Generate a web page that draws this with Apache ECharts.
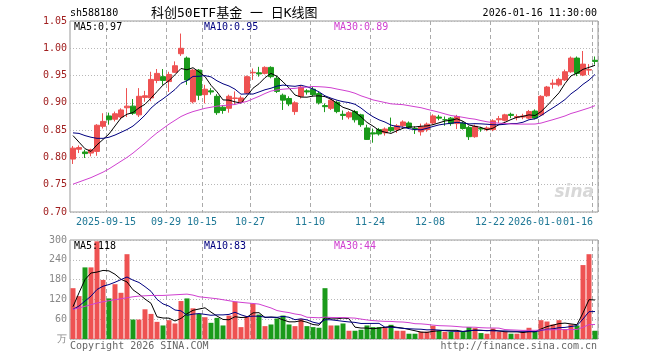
<!DOCTYPE html>
<html><head><meta charset="utf-8">
<script src="https://cdn.jsdelivr.net/npm/echarts@6/dist/echarts.min.js"></script>
<style>html,body{margin:0;padding:0;background:#fff}#c{width:660px;height:360px}</style>
</head><body><div id="c"></div>
<script>
const dates = ['2025-09-05','2025-09-08','2025-09-09','2025-09-10','2025-09-11','2025-09-12',
'2025-09-15','2025-09-16','2025-09-17','2025-09-18','2025-09-19','2025-09-22','2025-09-23','2025-09-24','2025-09-25','2025-09-26',
'2025-09-29','2025-09-30','2025-10-09','2025-10-10','2025-10-13','2025-10-14','2025-10-15','2025-10-16','2025-10-17',
'2025-10-20','2025-10-21','2025-10-22','2025-10-23','2025-10-24','2025-10-27','2025-10-28','2025-10-29','2025-10-30','2025-10-31',
'2025-11-03','2025-11-04','2025-11-05','2025-11-06','2025-11-07','2025-11-10','2025-11-11','2025-11-12','2025-11-13','2025-11-14',
'2025-11-17','2025-11-18','2025-11-19','2025-11-20','2025-11-21','2025-11-24','2025-11-25','2025-11-26','2025-11-27','2025-11-28',
'2025-12-01','2025-12-02','2025-12-03','2025-12-04','2025-12-05','2025-12-08','2025-12-09','2025-12-10','2025-12-11','2025-12-12',
'2025-12-15','2025-12-16','2025-12-17','2025-12-18','2025-12-19','2025-12-22','2025-12-23','2025-12-24','2025-12-25','2025-12-26',
'2025-12-29','2025-12-30','2025-12-31','2026-01-05','2026-01-06','2026-01-07','2026-01-08','2026-01-09',
'2026-01-12','2026-01-13','2026-01-14','2026-01-15','2026-01-16'];

const opens = [0.797,0.815,0.810,0.808,0.811,0.857,0.876,0.870,0.874,0.891,
0.894,0.878,0.910,0.909,0.941,0.948,0.939,0.956,0.990,0.982,
0.902,0.960,0.915,0.922,0.912,0.892,0.890,0.908,0.902,0.918,
0.955,0.955,0.954,0.965,0.945,0.914,0.908,0.884,0.912,0.922,
0.925,0.917,0.895,0.890,0.901,0.879,0.874,0.884,0.878,0.854,
0.845,0.851,0.845,0.855,0.851,0.858,0.863,0.853,0.847,0.851,
0.863,0.874,0.869,0.872,0.862,0.863,0.855,0.838,0.853,0.851,
0.851,0.869,0.868,0.879,0.873,0.874,0.872,0.885,0.878,0.913,
0.934,0.933,0.942,0.957,0.982,0.951,0.960,0.978];
const highs = [0.821,0.822,0.814,0.816,0.861,0.881,0.882,0.884,0.890,0.927,
0.907,0.927,0.922,0.957,0.962,0.962,0.957,0.976,1.027,0.985,
0.962,0.962,0.933,0.927,0.916,0.896,0.915,0.921,0.913,0.950,
0.963,0.966,0.967,0.967,0.950,0.917,0.912,0.903,0.932,0.925,
0.930,0.920,0.899,0.908,0.904,0.886,0.885,0.887,0.880,0.860,
0.853,0.854,0.855,0.873,0.861,0.868,0.866,0.857,0.862,0.864,
0.879,0.878,0.875,0.874,0.878,0.866,0.858,0.860,0.856,0.857,
0.870,0.876,0.880,0.882,0.879,0.880,0.887,0.888,0.914,0.931,
0.943,0.946,0.961,0.985,0.985,0.995,0.971,0.985];
const lows = [0.788,0.808,0.799,0.802,0.803,0.853,0.860,0.866,0.870,0.874,
0.878,0.874,0.902,0.903,0.936,0.933,0.920,0.955,0.986,0.933,
0.899,0.905,0.899,0.915,0.878,0.880,0.882,0.896,0.899,0.916,
0.942,0.948,0.952,0.945,0.918,0.887,0.894,0.878,0.908,0.915,
0.912,0.897,0.883,0.887,0.881,0.869,0.870,0.864,0.856,0.832,
0.827,0.840,0.840,0.846,0.845,0.855,0.852,0.843,0.840,0.847,
0.860,0.868,0.858,0.858,0.852,0.851,0.832,0.836,0.847,0.848,
0.848,0.863,0.866,0.872,0.868,0.870,0.870,0.870,0.876,0.911,
0.926,0.930,0.940,0.955,0.949,0.949,0.951,0.970];
const closes = [0.817,0.818,0.807,0.814,0.859,0.866,0.869,0.880,0.887,0.894,
0.881,0.912,0.913,0.943,0.954,0.941,0.952,0.968,1.000,0.942,
0.960,0.914,0.925,0.920,0.882,0.886,0.912,0.909,0.909,0.948,
0.956,0.953,0.965,0.948,0.921,0.905,0.898,0.900,0.929,0.920,
0.915,0.900,0.893,0.905,0.884,0.877,0.882,0.869,0.860,0.833,
0.843,0.843,0.852,0.849,0.858,0.865,0.855,0.852,0.856,0.861,
0.876,0.872,0.869,0.862,0.875,0.853,0.838,0.857,0.852,0.854,
0.867,0.871,0.878,0.877,0.875,0.876,0.884,0.872,0.912,0.929,
0.936,0.943,0.957,0.982,0.954,0.971,0.961,0.976];
const volumes = [154,130,217,217,296,179,123,166,140,257,
59,59,90,76,52,41,57,47,115,123,
93,76,66,49,64,41,71,113,36,69,
107,74,39,44,62,71,44,39,61,39,
36,34,154,41,41,47,25,25,28,41,
36,36,36,43,25,25,16,16,22,22,
40,25,22,22,22,22,36,33,18,16,
32,22,22,16,16,22,34,22,57,53,
44,57,30,44,41,224,257,25];

const ma5Head = [0.840,0.828,0.816,0.811];
const ma10Head = [0.845,0.844,0.840,0.837,0.835,0.835,0.837,0.841,0.846];
const ma30Head = [0.751,0.755,0.759,0.763,0.768,0.773,0.779,0.786,0.793,0.800,0.808,0.817,0.826,0.836,0.845,0.853,0.861,0.868,0.875,0.880,0.884,0.887,0.890,0.892,0.894,0.895,0.896,0.897,0.900];
const vma5Head = [98,140,180,200];
const vma10Head = [90,100,115,130,150,160,165,172,180];
const vma30Head = [90,94,99,104,109,113,116,119,122,125,128,130,131,132,132,132,133,134,135,136,133,128,126,124,122,119,116,113,111];

const priceTicks = [0.70,0.75,0.80,0.85,0.90,0.95,1.00,1.05];
const volTicks = [0,60,120,180,240,300];
const tickIdx = [6,16,22,30,40,50,60,70,78,87];
const tickText = ['2025-09-15','09-29','10-15','10-27','11-10','11-24','12-08','12-22','2026-01-05','01-16'];

function movingAvg(vals, n, head){
  return vals.map((v,i)=>{
    if(i < n-1) return head[i];
    let s=0; for(let k=i-n+1;k<=i;k++) s+=vals[k];
    return +(s/n).toFixed(4);
  });
}
const ma5 = movingAvg(closes,5,ma5Head), ma10 = movingAvg(closes,10,ma10Head), ma30 = movingAvg(closes,30,ma30Head);
const vma5 = movingAvg(volumes,5,vma5Head), vma10 = movingAvg(volumes,10,vma10Head), vma30 = movingAvg(volumes,30,vma30Head);

const UP='#ee5252', DOWN='#1a9a1a';
const mono='DejaVu Sans Mono';
const LBL='#1e7896';
const kData = dates.map((d,i)=>[opens[i],closes[i],lows[i],highs[i]]);
const vData = volumes.map((v,i)=>({value:v,itemStyle:{color: closes[i]>=opens[i]?UP:DOWN}}));
const last = dates.length-1;
const lastTick = tickIdx[tickIdx.length-1];
const isTick = (i)=>tickIdx.indexOf(i)>=0;
const isMidTick = (i)=>isTick(i) && i!==lastTick;

const chart = echarts.init(document.getElementById('c'));
const gridLine = {color:'#aaaaaa', type:[4,3], width:1};
const lineS = (name,data,color,xi,yi)=>({name,type:'line',data,xAxisIndex:xi,yAxisIndex:yi,showSymbol:false,symbol:'none',
  lineStyle:{color,width:1},itemStyle:{color},silent:true,z:5});
chart.setOption({
  animation:false,
  backgroundColor:'#ffffff',
  grid:[
    {left:70,top:21,width:528,height:191,show:true,borderColor:'#999',borderWidth:1},
    {left:70,top:240,width:528,height:99,show:true,borderColor:'#999',borderWidth:1}
  ],
  xAxis:[
    {type:'category',gridIndex:0,data:dates,boundaryGap:true,axisLine:{show:false},axisTick:{show:false},
     axisLabel:{show:true,interval:(i)=>isMidTick(i),margin:5,
       formatter:(v,i)=>'{n|'+tickText[tickIdx.indexOf(i)]+'}',
       rich:{n:{fontFamily:mono,fontSize:10,color:LBL,padding:[0,6,0,0]}}},
     splitLine:{show:true,interval:(i)=>isTick(i),lineStyle:gridLine}},
    {type:'category',gridIndex:1,data:dates,boundaryGap:true,axisLine:{show:false},axisTick:{show:false},axisLabel:{show:false},
     splitLine:{show:true,interval:(i)=>isTick(i),lineStyle:gridLine}},
    {type:'category',gridIndex:0,data:dates,boundaryGap:true,position:'bottom',axisLine:{show:false},axisTick:{show:false},
     splitLine:{show:false},
     axisLabel:{show:true,interval:(i)=>i===lastTick,showMaxLabel:true,margin:5,
       formatter:(v,i)=>'{e|'+tickText[tickIdx.indexOf(i)]+'}',
       rich:{e:{fontFamily:mono,fontSize:10,color:LBL,backgroundColor:'#ffffff',padding:[0,34,0,0]}}}}
  ],
  yAxis:[
    {type:'value',gridIndex:0,min:priceTicks[0],max:priceTicks[priceTicks.length-1],interval:0.05,scale:true,
     axisLine:{show:false},axisTick:{show:false},
     axisLabel:{margin:3,fontFamily:mono,fontSize:10,color:'#a01e1e',formatter:(v)=>v.toFixed(2)},
     splitLine:{show:true,lineStyle:{color:'#b8b8b8',type:[1,2]}}},
    {type:'value',gridIndex:1,min:volTicks[0],max:volTicks[volTicks.length-1],interval:60,
     axisLine:{show:false},axisTick:{show:false},
     axisLabel:{margin:3,fontFamily:mono,fontSize:10,color:'#888',formatter:(v)=>v===0?'万':String(v)},
     splitLine:{show:true,lineStyle:{color:'#b8b8b8',type:[1,2]}}}
  ],
  series:[
    {type:'candlestick',name:'K',data:kData,xAxisIndex:0,yAxisIndex:0,barWidth:5,
     itemStyle:{color:UP,color0:DOWN,borderColor:UP,borderColor0:DOWN,borderWidth:1},z:3},
    lineS('MA5',ma5,'#000000',0,0),
    lineS('MA10',ma10,'#000080',0,0),
    lineS('MA30',ma30,'#d040d0',0,0),
    {type:'bar',name:'VOL',data:vData,xAxisIndex:1,yAxisIndex:1,barWidth:5,z:3},
    lineS('VMA5',vma5,'#000000',1,1),
    lineS('VMA10',vma10,'#000080',1,1),
    lineS('VMA30',vma30,'#d040d0',1,1)
  ],
  graphic:[
    {type:'text',x:70,y:13,style:{text:'sh588180',font:'10px '+mono,fill:'#000',textVerticalAlign:'middle'}},
    {type:'text',x:151,y:14,style:{text:'科创50ETF基金 一 日K线图',font:'13px "DejaVu Sans Mono", "Noto Sans CJK SC"',fill:'#000',textVerticalAlign:'middle'}},
    {type:'text',x:597,y:13,style:{text:'2026-01-16 11:30:00',font:'10px '+mono,fill:'#000',textAlign:'right',textVerticalAlign:'middle'}},
    {type:'text',x:74,y:27,style:{text:'MA5:'+ma5[last].toFixed(2),font:'10px '+mono,fill:'#000',textVerticalAlign:'middle'},z:10},
    {type:'text',x:204,y:27,style:{text:'MA10:'+ma10[last].toFixed(2),font:'10px '+mono,fill:'#000080',textVerticalAlign:'middle'},z:10},
    {type:'text',x:334,y:27,style:{text:'MA30:'+ma30[last].toFixed(2),font:'10px '+mono,fill:'#d040d0',textVerticalAlign:'middle'},z:10},
    {type:'text',x:74,y:246,style:{text:'MA5:'+Math.round(vma5[last]),font:'10px '+mono,fill:'#000',textVerticalAlign:'middle'},z:10},
    {type:'text',x:204,y:246,style:{text:'MA10:'+Math.round(vma10[last]),font:'10px '+mono,fill:'#000080',textVerticalAlign:'middle'},z:10},
    {type:'text',x:334,y:246,style:{text:'MA30:'+Math.round(vma30[last]),font:'10px '+mono,fill:'#d040d0',textVerticalAlign:'middle'},z:10},
    {type:'text',x:70,y:346,style:{text:'Copyright 2026 SINA.COM',font:'10px '+mono,fill:'#666',textVerticalAlign:'middle'}},
    {type:'text',x:597,y:346,style:{text:'http://finance.sina.com.cn',font:'10px '+mono,fill:'#666',textAlign:'right',textVerticalAlign:'middle'}},
    {type:'text',x:594,y:193,style:{text:'sina',font:'italic bold 17px "DejaVu Sans"',fill:'#d8d8d8',textAlign:'right',textVerticalAlign:'middle'},z:1}
  ]
});
</script></body></html>
